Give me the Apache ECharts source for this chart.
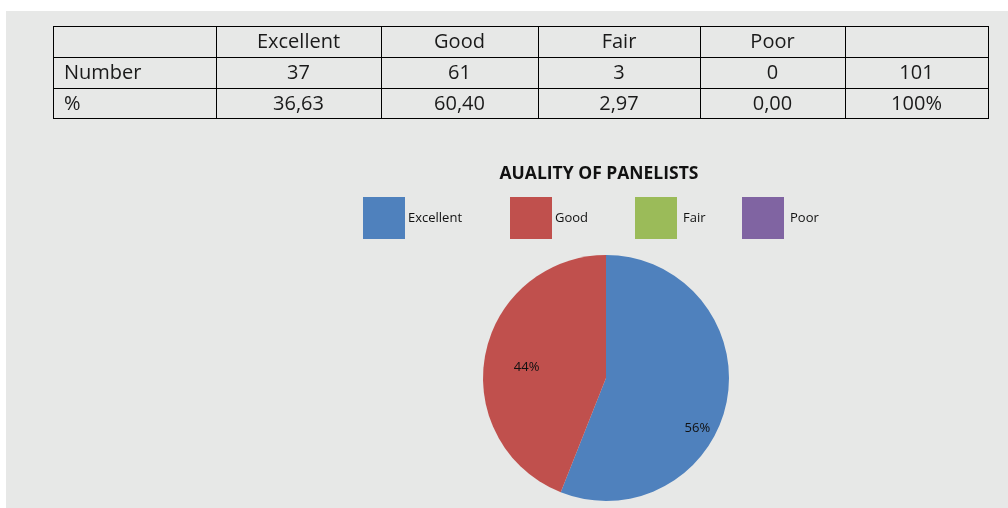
<!DOCTYPE html>
<html>
<head>
<meta charset="utf-8">
<script src="https://cdn.jsdelivr.net/npm/echarts@6/dist/echarts.min.js"></script>
<style>
  html, body { margin: 0; padding: 0; background: #fff; }
  #chart { width: 1008px; height: 508px; }
</style>
</head>
<body>
<div id="chart"></div>
<script>
// table + pie data
const categories = ["Excellent", "Good", "Fair", "Poor"];
const counts = [37, 61, 3, 0];
const countTotal = "101";
const percents = ["36,63", "60,40", "2,97", "0,00"];
const percentTotal = "100%";
const rowLabels = ["", "Number", "%"];
const pieValues = [56, 44, 0, 0];
const chartTitle = "AUALITY OF PANELISTS";

const colors = ["#4f81bd", "#c0504d", "#9bbb59", "#8064a2"];
const font = "'Open Sans', 'Noto Sans', sans-serif";

// table geometry
const colX = [53, 216, 381, 538, 700, 845, 988];
const rowY = [26, 57, 88, 118];

const tableRows = [
  [rowLabels[0]].concat(categories, [""]),
  [rowLabels[1]].concat(counts.map(String), [countTotal]),
  [rowLabels[2]].concat(percents, [percentTotal]),
];

let graphics = [
  {
    type: "rect",
    z: -10,
    shape: { x: 6, y: 11, width: 1002, height: 497 },
    style: { fill: "#e7e8e7" },
  },
];

// grid lines (half pixel so they stay crisp)
colX.forEach((x) => {
  graphics.push({
    type: "line",
    shape: { x1: x + 0.5, y1: rowY[0], x2: x + 0.5, y2: rowY[rowY.length - 1] + 1 },
    style: { stroke: "#000", lineWidth: 1 },
  });
});
rowY.forEach((y) => {
  graphics.push({
    type: "line",
    shape: { x1: colX[0], y1: y + 0.5, x2: colX[colX.length - 1] + 1, y2: y + 0.5 },
    style: { stroke: "#000", lineWidth: 1 },
  });
});

// cell texts
tableRows.forEach((row, r) => {
  const cy = (rowY[r] + rowY[r + 1]) / 2 + 1;
  row.forEach((txt, c) => {
    if (!txt) return;
    const first = c === 0;
    graphics.push({
      type: "text",
      x: first ? colX[0] + 11 : (colX[c] + colX[c + 1]) / 2,
      y: cy,
      style: {
        text: txt,
        fill: "#1a1a1a",
        font: "20px " + font,
        align: first ? "left" : "center",
        verticalAlign: "middle",
      },
    });
  });
});

const legendLeft = [363, 510, 635, 742];
const labelOffsets = [[28, 38], [-16, 1], [0, 0], [0, 0]];

const chart = echarts.init(document.getElementById("chart"));
chart.setOption({
  animation: false,
  color: colors,
  title: {
    text: chartTitle,
    left: 594,
    top: 160,
    textAlign: "center",
    textStyle: { fontFamily: font, fontSize: 17.5, fontWeight: "bold", color: "#111" },
  },
  legend: categories.map((name, i) => ({
    data: [name],
    left: legendLeft[i],
    top: 197,
    padding: 0,
    itemWidth: 42,
    itemHeight: 42,
    icon: "rect",
    selectedMode: false,
    textStyle: {
      fontFamily: font,
      fontSize: 13,
      color: "#111",
      padding: [2, 0, 0, i >= 2 ? 1 : -2],
    },
  })),
  graphic: graphics,
  series: [
    {
      type: "pie",
      center: [606, 378],
      radius: 123,
      startAngle: 90,
      clockwise: true,
      silent: true,
      itemStyle: { borderWidth: 0 },
      emphasis: { disabled: true },
      labelLine: { show: false },
      data: categories.map((name, i) => ({
        name: name,
        value: pieValues[i],
        label: {
          show: pieValues[i] > 0,
          position: "inside",
          offset: labelOffsets[i],
          formatter: (p) => Math.round(p.percent) + "%",
          fontFamily: font,
          fontSize: 13,
          color: "#111",
        },
      })),
    },
  ],
});
</script>
</body>
</html>
